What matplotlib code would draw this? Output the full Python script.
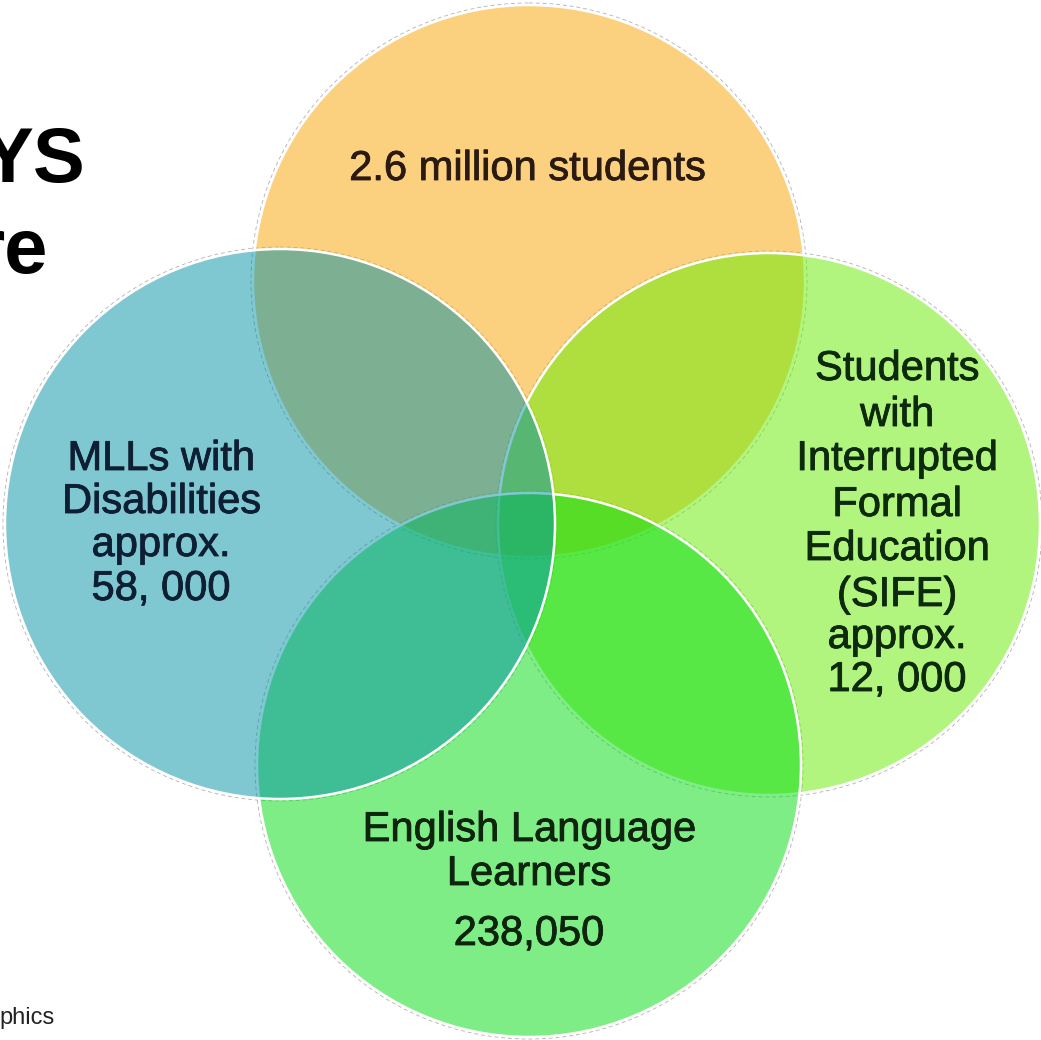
import matplotlib.pyplot as plt
import matplotlib.patheffects as pe
from matplotlib.colors import to_rgba
from matplotlib.patches import Circle

plt.rcParams['font.family'] = ['Liberation Sans', 'DejaVu Sans']

# circle labels (drawing order: top, right, bottom, left)
names = ['students', 'sife', 'ell', 'mll']
labels = {
    'students': ['2.6 million students'],
    'sife': ['Students', 'with', 'Interrupted', 'Formal', 'Education',
             '(SIFE)', 'approx.', '12, 000'],
    'ell': ['English Language', 'Learners', '238,050'],
    'mll': ['MLLs with', 'Disabilities', 'approx.', '58, 000'],
}
fill_colors = ['#F9A501', '#65ED00', '#01DD0D', '#0091A5']

# layout in pixel units of the 1041x1040 image
cx = {'students': 529, 'sife': 769, 'ell': 529, 'mll': 280}
cy = {'students': 281, 'sife': 524, 'ell': 765, 'mll': 524}
rad = {'students': 276, 'sife': 271, 'ell': 272, 'mll': 275}
text_x = {'students': 527, 'sife': 897, 'ell': 529, 'mll': 161}
text_base = {
    'students': [180],
    'sife': [380, 426, 470, 516, 560, 606, 648, 691],
    'ell': [841, 885, 945],
    'mll': [470, 513, 556, 600],
}
text_colors = {'students': '#2a1a12', 'sife': '#0e2a0e',
               'ell': '#0e240e', 'mll': '#0f1f33'}

fig = plt.figure(figsize=(10.41, 10.40), dpi=100)
ax = fig.add_axes([0, 0, 1, 1])
ax.set_xlim(0, 1041)
ax.set_ylim(1040, 0)
ax.set_aspect('equal')
ax.axis('off')

# faint dashed rim around the outside
for n in names:
    ax.add_patch(Circle((cx[n], cy[n]), rad[n] + 2, fill=False,
                        edgecolor='#b8b8b8', lw=0.7, ls=(0, (4, 3)),
                        zorder=1))

# half transparent discs, white rims
for i, n in enumerate(names):
    ax.add_patch(Circle((cx[n], cy[n]), rad[n],
                        facecolor=to_rgba(fill_colors[i], 0.5),
                        edgecolor='white', lw=1.8, zorder=2 + i))

for n in names:
    for line, yb in zip(labels[n], text_base[n]):
        ax.text(text_x[n], yb, line, ha='center', va='baseline',
                fontsize=30, color=text_colors[n], zorder=10,
                path_effects=[pe.withStroke(linewidth=0.6,
                                            foreground=text_colors[n])])

# cut-off title and source text at the left margin
ax.text(85, 182, 'YS', ha='right', va='baseline', fontsize=56,
        fontweight='bold', color='black')
ax.text(48, 273, 're', ha='right', va='baseline', fontsize=56,
        fontweight='bold', color='black')
ax.text(55, 1024, 'phics', ha='right', va='baseline', fontsize=17,
        color='#222222')

fig.savefig('out.png', dpi=100, facecolor='white')
